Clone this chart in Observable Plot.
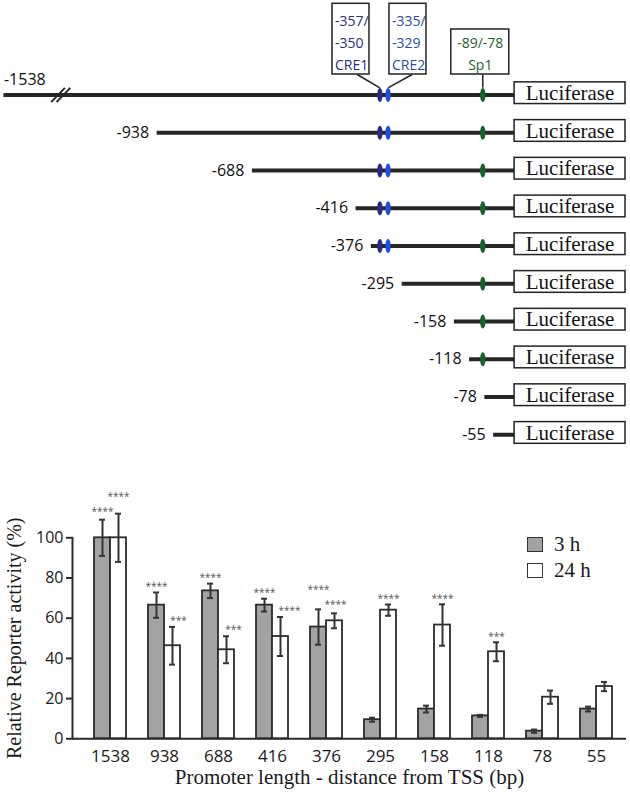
<!DOCTYPE html>
<html><head><meta charset="utf-8">
<script src="https://cdn.jsdelivr.net/npm/d3@7"></script>
<script src="https://cdn.jsdelivr.net/npm/@observablehq/plot@0.6"></script>
<style>
body{margin:0;background:#fff;}
#wrap{position:relative;width:630px;height:795px;overflow:hidden;}
#wrap svg{display:block;}
.leg{position:absolute;left:527px;font:21px "Liberation Serif","Times New Roman",serif;color:#1a1a1a;display:flex;align-items:center;line-height:1;}
.sw{width:14px;height:13px;border:1.5px solid #333;margin-right:11px;}
</style></head><body><div id="wrap"></div>
<script>
// ---------- Promoter construct diagram data ----------
const constructStarts = [-1538, -938, -688, -416, -376, -295, -158, -118, -78, -55];
const siteNames = ["CRE1", "CRE2", "Sp1"];
const siteFrom = [-357, -335, -89];
const siteTo = [-350, -329, -78];
const siteDotColors = ["#2b2a82", "#1f4ee0", "#17602f"];
const siteTextColors = ["#2e2c7e", "#2a4ca8", "#1e6130"];
const reporterName = "Luciferase";

// ---------- Reporter activity data ----------
const lengths = ["1538", "938", "688", "416", "376", "295", "158", "118", "78", "55"];
const series = ["3 h", "24 h"];
const act3h = [100, 66.5, 73.6, 66.5, 55.6, 9.5, 14.8, 11.4, 3.8, 14.8];
const err3h = [9, 6.3, 3.6, 3.2, 8.8, 1.0, 1.7, 0.5, 0.8, 1.2];
const act24h = [100, 46.3, 44.3, 50.9, 58.7, 64.0, 56.6, 43.3, 20.7, 26.0];
const err24h = [12, 9.4, 6.7, 9.7, 3.7, 2.8, 10.3, 4.7, 3.3, 2.3];
const sig3h = ["****", "****", "****", "****", "****", "", "", "", "", ""];
const sig24h = ["****", "***", "***", "****", "****", "****", "****", "***", "", ""];
const yTicks = [0, 20, 40, 60, 80, 100];
const xTitle = "Promoter length - distance from TSS (bp)";
const yTitle = "Relative Reporter activity (%)";

// ---------- layout (pixels / styles) ----------
const sans = "'Open Sans', 'Noto Sans', sans-serif";
const serif = "'Liberation Serif', 'Times New Roman', serif";
const pxPerBp = 625 / 1640;
const drawStart = -1340;           // broken-axis display start for the longest construct
const reporterLen = 291;           // luciferase box length on the drawing scale
const breakMarks = [-1198, -1184];
const boxOffsetPx = [-28.9, 19.9, -2.5];
const boxWidthPx = [37, 37, 58];
const boxTopRow = [-2.416, -2.416, -1.735];
const boxBottomRow = -0.543;
const connOffsetPx = [-22.7, 24, 0];
const liftPx3 = [8, 6, 6, 6, 20, 6, 6, 6, 6, 6];
const liftPx24 = [17, 6, 6, 6, 9, 6, 6, 6, 6, 6];
const shiftPx24 = [0, 6, 7, 9, 1, 0, 0, 0, 0, 0];

const wrap = document.getElementById("wrap");

// ===== Diagram =====
const rows = constructStarts.map((s, i) => ({start: s, from: Math.max(s, drawStart), row: i, label: String(s)}));
const sites = siteNames.map((n, j) => {
  const mid = (siteFrom[j] + siteTo[j]) / 2;
  const c = mid + boxOffsetPx[j] / pxPerBp;
  const hw = boxWidthPx[j] / 2 / pxPerBp;
  const text = j < 2 ? `${siteFrom[j]}/\n${siteTo[j]}\n${n}` : `${siteFrom[j]}/${siteTo[j]}\n${n}`;
  return {name: n, mid, x1: c - hw, x2: c + hw, cx: c, top: boxTopRow[j], text,
          conn: mid + connOffsetPx[j] / pxPerBp, dot: siteDotColors[j], tc: siteTextColors[j], from: siteFrom[j]};
});
const k = 0.5523;
const ellipse = {draw(ctx) {
  const rx = 2.7, ry = 7;
  ctx.moveTo(0, -ry);
  ctx.bezierCurveTo(k*rx, -ry, rx, -k*ry, rx, 0);
  ctx.bezierCurveTo(rx, k*ry, k*rx, ry, 0, ry);
  ctx.bezierCurveTo(-k*rx, ry, -rx, k*ry, -rx, 0);
  ctx.bezierCurveTo(-rx, -k*ry, -k*rx, -ry, 0, -ry);
  ctx.closePath();
}};

const diagMarks = [
  Plot.ruleY(rows, {y: "row", x1: "from", x2: () => 0, stroke: "#262626", strokeWidth: 4}),
  Plot.link(breakMarks.map(b => ({b})), {x1: d => d.b - 18, x2: d => d.b + 18, y1: () => 0.19, y2: () => -0.19, stroke: "#262626", strokeWidth: 2}),
  Plot.link(sites, {x1: "conn", y1: () => boxBottomRow, x2: "mid", y2: () => -0.19, stroke: "#222", strokeWidth: 1.5}),
  Plot.rect(sites, {x1: "x1", x2: "x2", y1: "top", y2: () => boxBottomRow, fill: "white", stroke: "#222", strokeWidth: 1.5}),
  Plot.text(sites.slice(0, 2), {x: "x1", y: () => boxBottomRow, text: "text", textAnchor: "start", dx: 2.5, lineAnchor: "bottom", dy: -5, lineHeight: 1.55, fontSize: 14, fontFamily: sans, fill: "tc"}),
  Plot.text(sites.slice(2), {x: "cx", y: () => boxBottomRow, text: "text", textAnchor: "middle", lineAnchor: "bottom", dy: -5, lineHeight: 1.55, fontSize: 14, fontFamily: sans, fill: "tc"}),
];
sites.forEach(s => {
  diagMarks.push(Plot.dot(rows.filter(r => r.start <= s.from), {x: () => s.mid, y: "row", symbol: ellipse, fill: s.dot, stroke: "none", r: 3}));
});
diagMarks.push(
  Plot.rect(rows, {x1: () => 0, x2: () => reporterLen, y1: d => d.row - 0.335, y2: d => d.row + 0.24, fill: "white", stroke: "#222", strokeWidth: 1.5}),
  Plot.text(rows, {x: () => reporterLen / 2, y: d => d.row - 0.05, text: () => reporterName, fontFamily: serif, fontSize: 21, fill: "#111"}),
  Plot.text(rows.slice(1), {x: "from", y: "row", text: "label", textAnchor: "end", dx: -8, fontSize: 16, fontFamily: sans, fill: "#111"}),
  Plot.text(rows.slice(0, 1), {x: "from", y: "row", text: "label", textAnchor: "start", dy: -15, fontSize: 16, fontFamily: sans, fill: "#111"})
);

const diagram = Plot.plot({
  width: 630, height: 460,
  marginLeft: 0, marginRight: 0, marginTop: 0, marginBottom: 0,
  x: {type: "linear", domain: [-1349, 291], range: [0, 625], axis: null},
  y: {type: "linear", domain: [-2.5, 9], range: [94.5 - 2.5 * 37.75, 94.5 + 9 * 37.75], axis: null},
  style: {fontFamily: sans, background: "white", overflow: "visible"},
  marks: diagMarks
});
wrap.appendChild(diagram);

// ===== Bar chart =====
const b3 = lengths.map((l, i) => ({len: l, v: act3h[i], e: err3h[i], sig: sig3h[i], lift: liftPx3[i], shift: 0}));
const b24 = lengths.map((l, i) => ({len: l, v: act24h[i], e: err24h[i], sig: sig24h[i], lift: liftPx24[i], shift: shiftPx24[i]}));
const caps = (arr) => arr.flatMap(d => [{len: d.len, y: d.v - d.e}, {len: d.len, y: d.v + d.e}]);

const barMarks = [
  Plot.barY(b3, {x: "len", y: "v", fill: "#a3a3a3", stroke: "#2b2b2b", strokeWidth: 1.8, insetRight: 16}),
  Plot.barY(b24, {x: "len", y: "v", fill: "white", stroke: "#2b2b2b", strokeWidth: 1.8, insetLeft: 16}),
  Plot.ruleX(b3, {x: "len", y1: d => d.v - d.e, y2: d => d.v + d.e, dx: -8, stroke: "#333", strokeWidth: 2}),
  Plot.ruleX(b24, {x: "len", y1: d => d.v - d.e, y2: d => d.v + d.e, dx: 8, stroke: "#333", strokeWidth: 2}),
  Plot.tickY(caps(b3), {x: "len", y: "y", insetLeft: 5, insetRight: 21, stroke: "#333", strokeWidth: 2}),
  Plot.tickY(caps(b24), {x: "len", y: "y", insetLeft: 21, insetRight: 5, stroke: "#333", strokeWidth: 2}),
  Plot.ruleY([0], {stroke: "#2b2b2b", strokeWidth: 2}),
  Plot.frame({anchor: "left", stroke: "#2b2b2b", strokeWidth: 2}),
  Plot.axisY({ticks: yTicks, tickSize: 6, tickPadding: 3, fontSize: 16, fontFamily: sans, stroke: "#2b2b2b", strokeWidth: 2, fill: "#1a1a1a", label: null}),
  Plot.axisX({tickSize: 0, tickPadding: 11, fontSize: 17, fontFamily: sans, fill: "#1a1a1a", label: null}),
  Plot.text([xTitle], {frameAnchor: "bottom", dy: 45, text: d => d, fontFamily: serif, fontSize: 21, fill: "#1a1a1a"}),
  Plot.text([yTitle], {frameAnchor: "left", dx: -58, rotate: -90, textAnchor: "middle", text: d => d, fontFamily: serif, fontSize: 20, fill: "#1a1a1a"})
];
[[b3, -8], [b24, 8]].forEach(([arr, base]) => {
  arr.filter(d => d.sig).forEach(d => {
    barMarks.push(Plot.text([d], {x: "len", y: d => d.v + d.e, text: "sig", dx: base + d.shift, dy: -d.lift, fontSize: 10, fontFamily: sans, fill: "#555"}));
  });
});

const bars = Plot.plot({
  width: 630, height: 335,
  marginLeft: 72, marginRight: 4, marginTop: 77.3, marginBottom: 56.7,
  x: {type: "band", domain: lengths, paddingInner: 0.415, paddingOuter: 0.274, align: 0.6, axis: null},
  y: {domain: [0, 100], axis: null},
  style: {fontFamily: sans, background: "white", overflow: "visible"},
  marks: barMarks
});
wrap.appendChild(bars);

// legend
const legFill = ["#a3a3a3", "white"];
series.forEach((s, i) => {
  const div = document.createElement("div");
  div.className = "leg";
  div.style.top = (534 + i * 26) + "px";
  div.innerHTML = `<span class="sw" style="background:${legFill[i]}"></span><span>${s}</span>`;
  wrap.appendChild(div);
});
</script></body></html>
